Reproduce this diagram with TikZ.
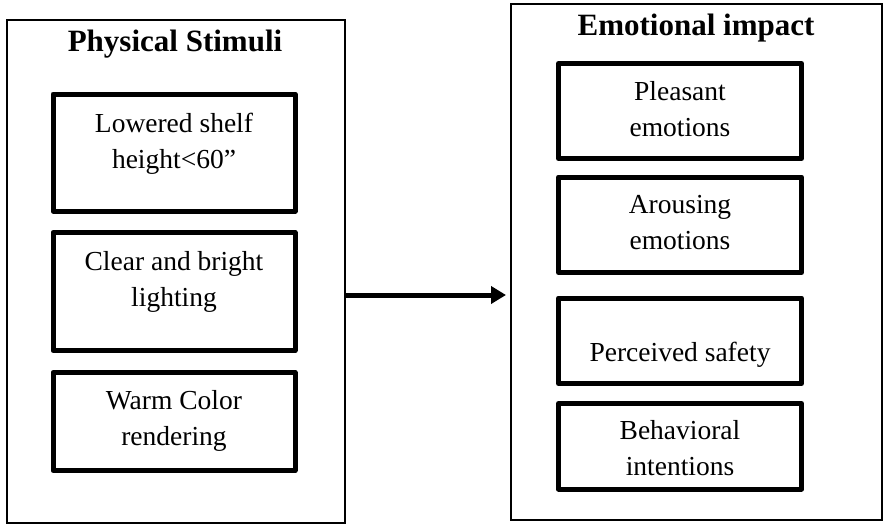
\documentclass[tikz,border=0pt]{standalone}
\usepackage{fontspec}
\setmainfont{Liberation Serif}
\usetikzlibrary{arrows.meta}
\begin{document}
\begin{tikzpicture}[x=1pt,y=-1pt,
  outerbox/.style={draw=black,line width=2pt},
  innerbox/.style={draw=black,line width=5pt,line join=round},
  title/.style={anchor=north,inner sep=0pt,font=\fontsize{31}{36}\selectfont\bfseries},
  body/.style={anchor=north,inner sep=0pt,align=center,font=\fontsize{27.5}{36}\selectfont},
  arrowline/.style={line width=5pt,-{Triangle[length=15pt,width=17pt]}}]
\useasboundingbox (0,0) rectangle (884,525);
% outer boxes
\node[outerbox,inner sep=0pt,minimum width=338pt,minimum height=503pt] (L) at (176,271.5) {};
\node[outerbox,inner sep=0pt,minimum width=371pt,minimum height=516pt] (R) at (696.5,262) {};
% titles
\node[title] (Lt) at (175,29.5) {Physical Stimuli};
\node[title] (Rt) at (696,13.5) {Emotional impact};
% left inner boxes
\draw[innerbox] (53,94) rectangle (295,211) coordinate (l1);
\draw[innerbox] (53,232.5) rectangle (295,350.5) coordinate (l2);
\draw[innerbox] (53,372.5) rectangle (295,470.5) coordinate (l3);
\node[body] (t1) at (174,113) {Lowered shelf\\height<60”};
\node[body] (t2) at (174,251.5) {Clear and bright\\lighting};
\node[body] (t3) at (174,390) {Warm Color\\rendering};
% right inner boxes
\draw[innerbox] (558.5,63.5) rectangle (801.5,158.5) coordinate (r1);
\draw[innerbox] (558.5,177) rectangle (801.5,272.5) coordinate (r2);
\draw[innerbox] (558.5,298) rectangle (801.5,383.5) coordinate (r3);
\draw[innerbox] (558.5,403.5) rectangle (801.5,489) coordinate (r4);
\node[body] (u1) at (680,81.5) {Pleasant\\emotions};
\node[body] (u2) at (680,195) {Arousing\\emotions};
\node[body] (u3) at (680,341.5) {Perceived safety};
\node[body] (u4) at (680,420.5) {Behavioral\\intentions};
% arrow
\coordinate (A) at (0,295);
\draw[arrowline] (L.east |- A) -- ([xshift=-4pt]R.west |- A);
\end{tikzpicture}
\end{document}
